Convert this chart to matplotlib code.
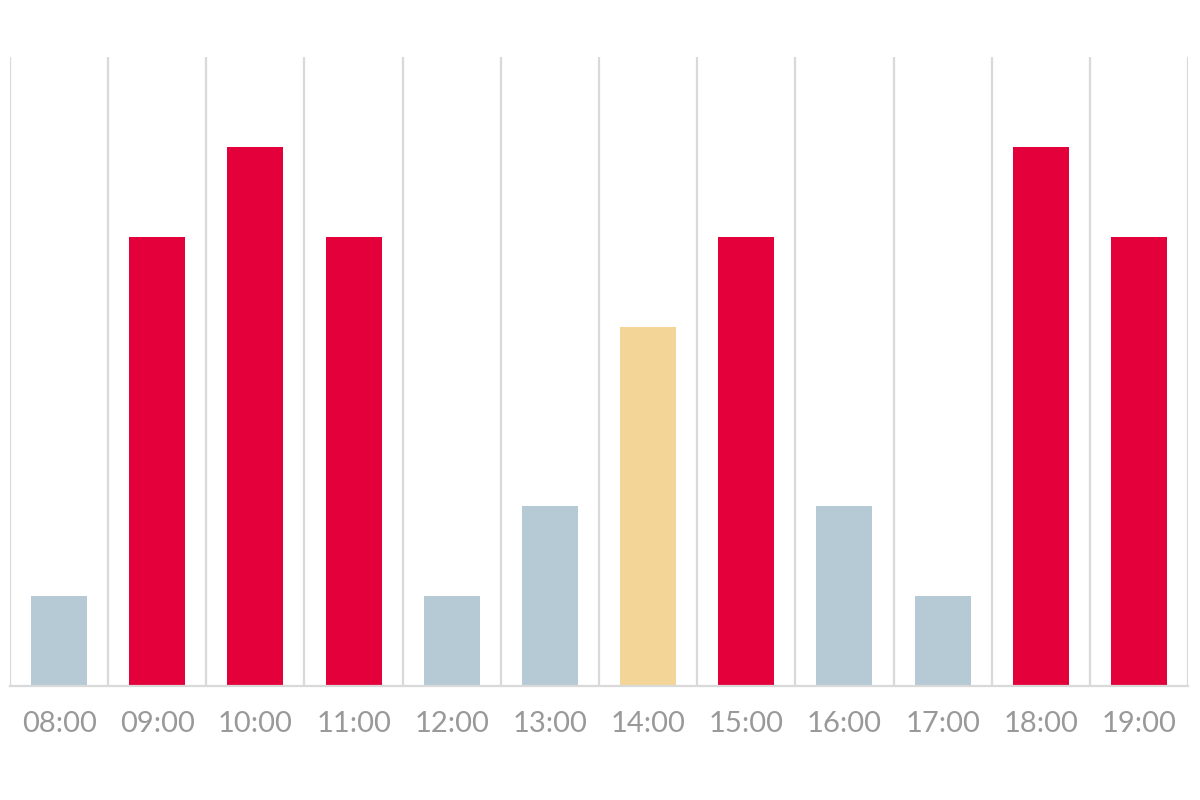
import matplotlib.pyplot as plt
import numpy as np

hours = ['08:00', '09:00', '10:00', '11:00', '12:00', '13:00',
         '14:00', '15:00', '16:00', '17:00', '18:00', '19:00']
values = [1, 5, 6, 5, 1, 2, 4, 5, 2, 1, 6, 5]
levels = ['low', 'high', 'high', 'high', 'low', 'low',
          'mid', 'high', 'low', 'low', 'high', 'high']

level_colors = {'low': '#b6cad5', 'mid': '#f3d598', 'high': '#e4003a'}
grid_color = '#d9d9d9'

plt.rcParams['font.family'] = ['Lato', 'DejaVu Sans']

fig = plt.figure(figsize=(12, 8), dpi=100)
ax = fig.add_axes([10 / 1200, 1 - 686 / 800, 1178 / 1200, 629 / 800])

x = np.arange(len(hours))
ax.bar(x, values, width=0.57, color=[level_colors[l] for l in levels], zorder=2)

ax.set_xlim(-0.5, len(hours) - 0.5)
ax.set_ylim(0, 7)

# vertical separators between categories
for b in np.arange(-0.5, len(hours), 1.0):
    ax.axvline(b, color=grid_color, linewidth=1.6, zorder=1)

for side in ['top', 'right', 'left']:
    ax.spines[side].set_visible(False)
ax.spines['bottom'].set_color(grid_color)
ax.spines['bottom'].set_linewidth(1.6)

ax.set_yticks([])
ax.set_xticks(x)
ax.set_xticklabels(hours, color='#999999', fontsize=21, fontweight='normal')
ax.tick_params(axis='x', length=0, pad=18)

fig.savefig('out.png', dpi=100)
